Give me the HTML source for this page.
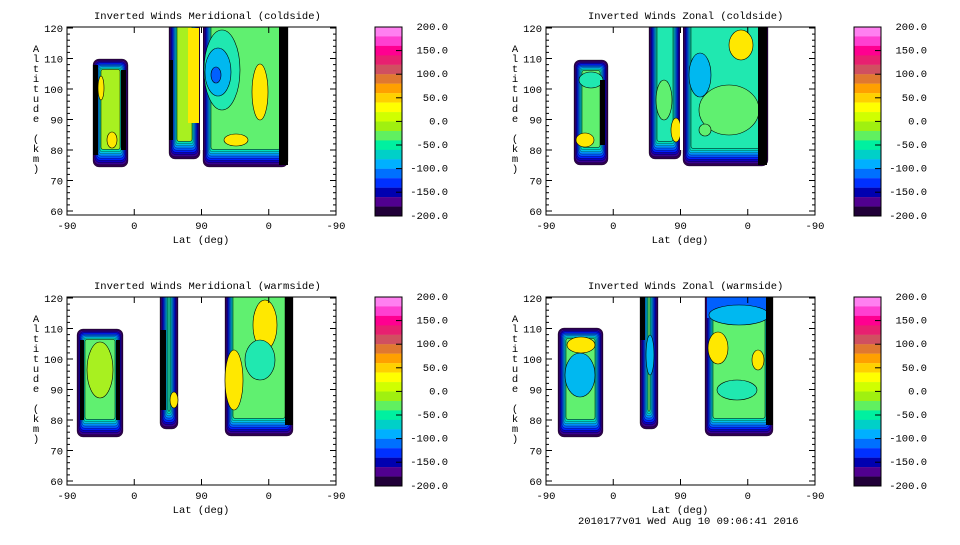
<!DOCTYPE html>
<html><head><meta charset="utf-8"><style>
body{margin:0;background:#fff;width:960px;height:540px;overflow:hidden}
svg text{font-family:"Liberation Mono",monospace;font-size:10.5px;fill:#000}
</style></head><body>
<svg id="s" width="960" height="540" xmlns="http://www.w3.org/2000/svg">
<defs>
<clipPath id="c0"><rect x="67" y="27" width="269" height="188"/></clipPath>
<clipPath id="c1"><rect x="546" y="27" width="269" height="188"/></clipPath>
<clipPath id="c2"><rect x="67" y="297" width="269" height="188"/></clipPath>
<clipPath id="c3"><rect x="546" y="297" width="269" height="188"/></clipPath>
</defs>
<text x="94" y="19">Inverted Winds Meridional (coldside)</text>
<text x="588" y="19">Inverted Winds Zonal (coldside)</text>
<text x="94" y="289">Inverted Winds Meridional (warmside)</text>
<text x="588" y="289">Inverted Winds Zonal (warmside)</text>
<text x="578" y="524">2010177v01 Wed Aug 10 09:06:41 2016</text>
</svg>
<script>
var s=document.getElementById('s'),NS='http://www.w3.org/2000/svg';
function el(t,a,p,txt){var e=document.createElementNS(NS,t);for(var k in a)e.setAttribute(k,a[k]);if(txt!=null)e.textContent=txt;(p||s).appendChild(e);return e;}
var layers=['#300050','#3a0090','#1000c0','#0020ff','#0058ff','#0090ff','#00c0e8','#00e0b8'];
function blob(g,ox,oy,x,y,w,h,fill){
 for(var i=0;i<layers.length;i++){
  var sx=i*1.0,st=i*1.3,sb=i*2.2;
  el('rect',{x:ox+x+sx,y:oy+y+st,width:Math.max(1,w-2*sx),height:Math.max(1,h-st-sb),rx:Math.max(1,6-i*0.6),fill:layers[i],stroke:'#000','stroke-width':0.3},g);
 }
 var n=layers.length;
 el('rect',{x:ox+x+n*1.0,y:oy+y+n*1.3,width:w-2*n*1.0,height:h-n*1.3-n*2.2,rx:2,fill:fill,stroke:'#000','stroke-width':0.5},g);
}
function patch(g,ox,oy,cx,cy,rx,ry,f){el('ellipse',{cx:ox+cx,cy:oy+cy,rx:rx,ry:ry,fill:f,stroke:'#000','stroke-width':0.6},g);}
function box(g,ox,oy,x,y,w,h,f){el('rect',{x:ox+x,y:oy+y,width:w,height:h,fill:f},g);}
var Y='#ffe800',L='#a8f020',G='#60f070',C='#20e8b0',Cy='#00b8f0',B='#0060ff';
var panels=[
 [0,0,function(g,o,p){
  blob(g,o,p,93,59,35,108,L);
  patch(g,o,p,101,88,3,12,Y);patch(g,o,p,112,140,5,8,Y);box(g,o,p,93,65,5,90,'#000');box(g,o,p,121,70,5,80,'#000');
  blob(g,o,p,169,15,31,144,L);box(g,o,p,188,28,11,95,Y);box(g,o,p,169,60,4,80,'#000');
  blob(g,o,p,203,15,85,152,G);
  patch(g,o,p,222,70,18,40,C);patch(g,o,p,218,72,13,24,Cy);patch(g,o,p,216,75,5,8,B);
  patch(g,o,p,260,92,8,28,Y);patch(g,o,p,236,140,12,6,Y);
  box(g,o,p,279,15,9,150,'#000');box(g,o,p,200,15,3,135,'#fff');}],
 [479,0,function(g,o,p){
  blob(g,o,p,95,60,34,105,G);
  patch(g,o,p,112,80,12,8,C);patch(g,o,p,106,140,9,7,Y);box(g,o,p,121,80,5,65,'#000');
  blob(g,o,p,170,15,32,144,C);patch(g,o,p,197,130,5,12,Y);patch(g,o,p,185,100,8,20,G);
  blob(g,o,p,204,15,85,151,C);
  patch(g,o,p,250,110,30,25,G);patch(g,o,p,221,75,11,22,Cy);patch(g,o,p,262,45,12,15,Y);patch(g,o,p,226,130,6,6,G);
  box(g,o,p,279,15,9,150,'#000');box(g,o,p,201,15,3,135,'#fff');}],
 [0,270,function(g,o,p){
  blob(g,o,p,77,59,46,108,G);patch(g,o,p,100,100,13,28,L);box(g,o,p,80,70,4,80,'#000');box(g,o,p,116,70,4,80,'#000');
  blob(g,o,p,160,15,18,144,C);box(g,o,p,160,60,6,80,'#000');patch(g,o,p,174,130,4,8,Y);
  blob(g,o,p,225,15,68,151,G);
  patch(g,o,p,234,110,9,30,Y);patch(g,o,p,265,55,12,25,Y);patch(g,o,p,260,90,15,20,C);
  box(g,o,p,285,15,8,140,'#000');}],
 [479,270,function(g,o,p){
  blob(g,o,p,79,58,45,109,G);patch(g,o,p,101,105,15,22,Cy);patch(g,o,p,102,75,14,8,Y);
  blob(g,o,p,161,15,18,144,G);box(g,o,p,161,20,5,50,'#000');patch(g,o,p,171,85,4,20,Cy);
  blob(g,o,p,226,15,68,151,G);
  box(g,o,p,228,20,64,28,B);patch(g,o,p,260,45,30,10,Cy);
  patch(g,o,p,239,78,10,16,Y);patch(g,o,p,279,90,6,10,Y);patch(g,o,p,258,120,20,10,C);
  box(g,o,p,287,15,7,140,'#000');}]
];
panels.forEach(function(P,i){
 var o=P[0],p=P[1];
 var g=el('g',{'clip-path':'url(#c'+i+')'});P[2](g,o,p);
 el('rect',{x:o+67,y:p+27,width:269,height:188,fill:'none',stroke:'#000','stroke-width':1});
 for(var a=60;a<=120;a+=2){var y=p+28+(120-a)*3.05,L=(a%10==0)?6:3;
  el('line',{x1:o+67,x2:o+67+L,y1:y,y2:y,stroke:'#000'});el('line',{x1:o+336,x2:o+336-L,y1:y,y2:y,stroke:'#000'});
  if(a%10==0)el('text',{x:o+63,y:y+4,'text-anchor':'end'},null,a);}
 var xl=['-90','0','90','0','-90'];
 for(var k=0;k<5;k++){var x=o+67+k*67.25;
  el('line',{x1:x,x2:x,y1:p+215,y2:p+209,stroke:'#000'});el('line',{x1:x,x2:x,y1:p+27,y2:p+33,stroke:'#000'});
  el('text',{x:x,y:p+229,'text-anchor':'middle'},null,xl[k]);}
 el('text',{x:o+201,y:p+243,'text-anchor':'middle'},null,'Lat (deg)');
 var lab='Altitude (km)';for(var c=0;c<lab.length;c++)el('text',{x:o+36,y:p+52+c*10,'text-anchor':'middle'},null,lab[c]);
 var cols=['#ff80f0','#ff40d0','#ff0090','#e82070','#d05060','#e07830','#ffa000','#ffd000','#ffff00','#d0ff00','#a0f010','#60f060','#00f0a0','#00d0c8','#00b0ff','#0070ff','#0030ff','#0000b0','#500090','#200038'];
 for(var b=0;b<20;b++)el('rect',{x:o+375,y:p+27+b*9.45,width:27,height:9.6,fill:cols[b]});
 el('rect',{x:o+375,y:p+27,width:27,height:189,fill:'none',stroke:'#000'});
 var cl=['200.0','150.0','100.0','50.0','0.0','-50.0','-100.0','-150.0','-200.0'];
 for(var m=0;m<9;m++){var y=p+27+m*23.6;if(m>0&&m<8)el('line',{x1:o+396,x2:o+402,y1:y,y2:y,stroke:'#000'});
  el('text',{x:o+448,y:y+3,'text-anchor':'end'},null,cl[m]);}
});
</script>
</body></html>
